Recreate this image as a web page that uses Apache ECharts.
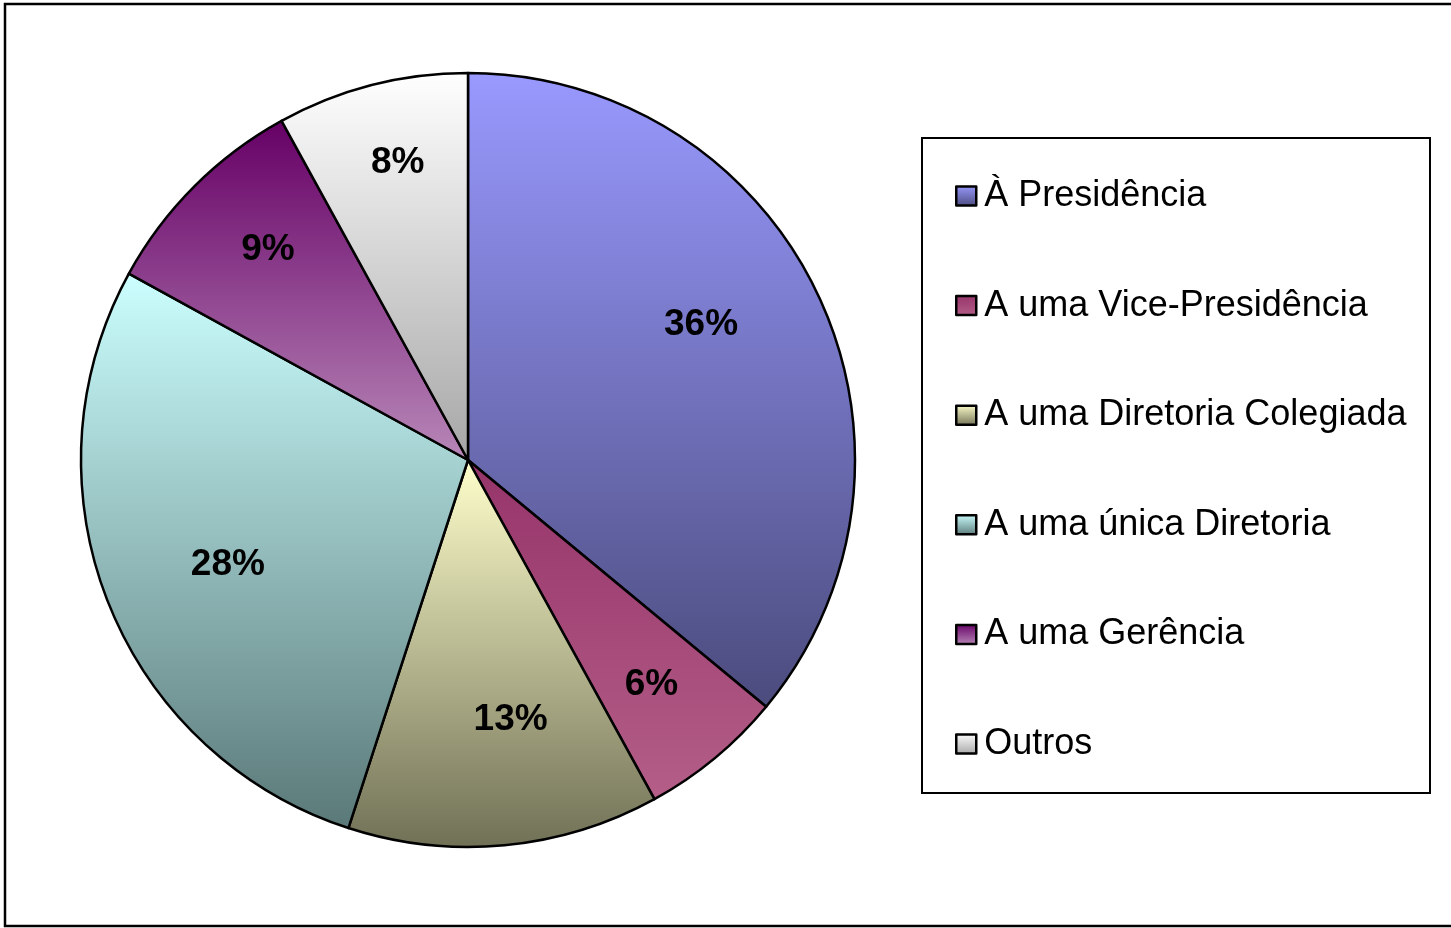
<!DOCTYPE html>
<html>
<head>
<meta charset="utf-8">
<script src="https://cdn.jsdelivr.net/npm/echarts@6/dist/echarts.min.js"></script>
<style>
  html, body { margin: 0; padding: 0; background: #fff; }
  #chart { width: 1451px; height: 928px; }
</style>
</head>
<body>
<div id="chart"></div>
<script>
// Categories and shares (percent)
const categories = [
  'À Presidência',
  'A uma Vice-Presidência',
  'A uma Diretoria Colegiada',
  'A uma única Diretoria',
  'A uma Gerência',
  'Outros'
];
const shares = [36, 6, 13, 28, 9, 8];

// Vertical gradient per slice: [top colour, bottom colour]
const sliceColors = [
  ['#9999ff', '#4b4b7d'],
  ['#96346a', '#b45e88'],
  ['#ffffcc', '#707056'],
  ['#ccffff', '#5a7878'],
  ['#660066', '#b888b8'],
  ['#ffffff', '#a6a6a6']
];

// Fine placement of each percentage label, in pixels [dx, dy]
const labelNudge = [[-23, -15], [3, 7], [16, -22], [23, 1], [0, -10], [0, -23]];

const FONT = "'Liberation Sans', Arial, sans-serif";

function grad(pair) {
  return new echarts.graphic.LinearGradient(0, 0, 0, 1, [
    { offset: 0, color: pair[0] },
    { offset: 1, color: pair[1] }
  ]);
}

const slices = categories.map((name, i) => ({
  name: name,
  value: shares[i],
  itemStyle: { color: grad(sliceColors[i]) }
}));

// Transparent companion ring that only carries the percentage labels,
// so they sit well out towards the rim of the pie.
const labelRing = categories.map((name, i) => ({
  name: name,
  value: shares[i],
  label: { offset: labelNudge[i] }
}));

const chart = echarts.init(document.getElementById('chart'), null, { renderer: 'canvas' });

chart.setOption({
  backgroundColor: '#ffffff',
  animation: false,
  graphic: [
    {
      type: 'rect',
      shape: { x: 5, y: 4, width: 1460, height: 922 },
      style: { fill: 'none', stroke: '#000', lineWidth: 2.5 },
      z: -1
    },
    {
      type: 'rect',
      shape: { x: 922, y: 138, width: 508, height: 655 },
      style: { fill: '#fff', stroke: '#000', lineWidth: 2 },
      z: -1
    }
  ],
  legend: {
    orient: 'vertical',
    left: 955,
    top: 176,
    padding: 0,
    data: categories,
    icon: 'rect',
    itemWidth: 20,
    itemHeight: 19,
    itemGap: 69.6,
    selectedMode: false,
    itemStyle: { borderColor: '#000', borderWidth: 2.5 },
    textStyle: {
      fontFamily: FONT,
      fontSize: 36,
      lineHeight: 40,
      color: '#000',
      padding: [0, 0, 0, 3]
    }
  },
  series: [
    {
      type: 'pie',
      center: [468, 460],
      radius: [0, 387],
      startAngle: 90,
      clockwise: true,
      avoidLabelOverlap: false,
      label: { show: false },
      labelLine: { show: false },
      itemStyle: { borderColor: '#000', borderWidth: 2.5 },
      emphasis: { disabled: true },
      silent: true,
      data: slices
    },
    {
      type: 'pie',
      center: [468, 460],
      radius: [0, 560],
      startAngle: 90,
      clockwise: true,
      avoidLabelOverlap: false,
      silent: true,
      emphasis: { disabled: true },
      itemStyle: { color: 'rgba(0,0,0,0)', borderWidth: 0 },
      labelLine: { show: false },
      label: {
        show: true,
        position: 'inside',
        fontFamily: FONT,
        fontSize: 37,
        fontWeight: 'bold',
        color: '#000',
        formatter: p => Math.round(p.percent) + '%'
      },
      data: labelRing
    }
  ]
});
</script>
</body>
</html>
